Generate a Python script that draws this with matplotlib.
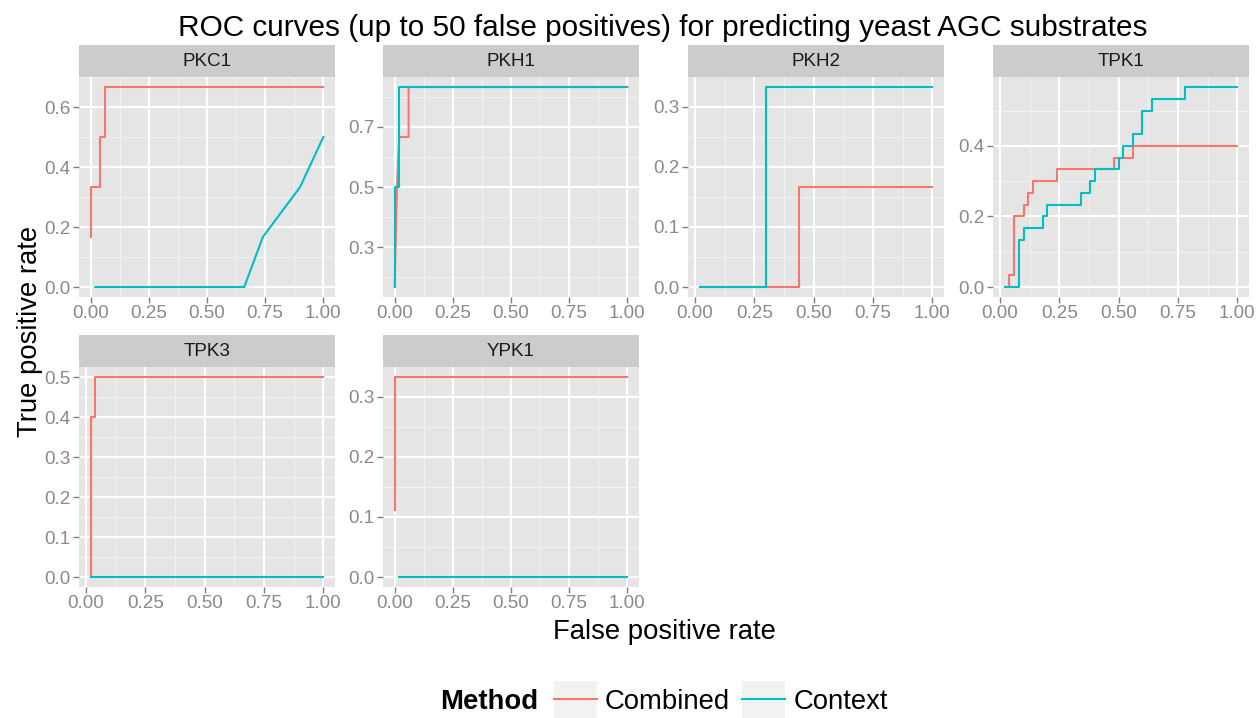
import numpy as np
import matplotlib
matplotlib.use("Agg")
import matplotlib.pyplot as plt
from matplotlib.lines import Line2D
from matplotlib.patches import Rectangle
from matplotlib.legend_handler import HandlerLine2D

plt.rcParams['font.family'] = ['Liberation Sans', 'DejaVu Sans']

# ---------------------------------------------------------------------------
# data
# ---------------------------------------------------------------------------
kinases = ['PKC1', 'PKH1', 'PKH2', 'TPK1', 'TPK3', 'YPK1']
methods = ['Combined', 'Context']
colors = {'Combined': '#F8766D', 'Context': '#00BFC4'}

pkc1_comb_x = [0.0, 0.0, 0.04, 0.04, 0.06, 0.06, 1.0]
pkc1_comb_y = [0.1667, 0.3333, 0.3333, 0.5, 0.5, 0.6667, 0.6667]
pkc1_ctx_x = [0.02, 0.66, 0.74, 0.90, 1.0]
pkc1_ctx_y = [0.0, 0.0, 0.1667, 0.3333, 0.5]

pkh1_comb_x = [0.0, 0.01, 0.02, 0.06, 0.06, 1.0]
pkh1_comb_y = [0.1667, 0.5, 0.6667, 0.6667, 0.8333, 0.8333]
pkh1_ctx_x = [0.0, 0.0, 0.02, 0.02, 1.0]
pkh1_ctx_y = [0.1667, 0.5, 0.5, 0.8333, 0.8333]

pkh2_comb_x = [0.02, 0.44, 0.44, 1.0]
pkh2_comb_y = [0.0, 0.0, 0.1667, 0.1667]
pkh2_ctx_x = [0.02, 0.30, 0.30, 1.0]
pkh2_ctx_y = [0.0, 0.0, 0.3333, 0.3333]

tpk1_comb_x = [0.02, 0.04, 0.04, 0.06, 0.06, 0.10, 0.10, 0.12, 0.12, 0.14, 0.14,
               0.24, 0.24, 0.48, 0.48, 0.56, 0.56, 1.0]
tpk1_comb_y = [0.0, 0.0, 0.0333, 0.0333, 0.2, 0.2, 0.2333, 0.2333, 0.2667, 0.2667, 0.3,
               0.3, 0.3333, 0.3333, 0.3667, 0.3667, 0.4, 0.4]
tpk1_ctx_x = [0.02, 0.08, 0.08, 0.10, 0.10, 0.18, 0.18, 0.20, 0.20, 0.34, 0.34,
              0.38, 0.38, 0.40, 0.40, 0.50, 0.50, 0.52, 0.52, 0.56, 0.56,
              0.60, 0.60, 0.64, 0.64, 0.78, 0.78, 1.0]
tpk1_ctx_y = [0.0, 0.0, 0.1333, 0.1333, 0.1667, 0.1667, 0.2, 0.2, 0.2333, 0.2333, 0.2667,
              0.2667, 0.3, 0.3, 0.3333, 0.3333, 0.3667, 0.3667, 0.4, 0.4, 0.4333,
              0.4333, 0.5, 0.5, 0.5333, 0.5333, 0.5667, 0.5667]

tpk3_comb_x = [0.02, 0.02, 0.04, 0.04, 1.0]
tpk3_comb_y = [0.0, 0.4, 0.4, 0.5, 0.5]
tpk3_ctx_x = [0.02, 1.0]
tpk3_ctx_y = [0.0, 0.0]

ypk1_comb_x = [0.0, 0.0, 1.0]
ypk1_comb_y = [0.1111, 0.3333, 0.3333]
ypk1_ctx_x = [0.02, 1.0]
ypk1_ctx_y = [0.0, 0.0]

curves = {
    'PKC1': {'Combined': (pkc1_comb_x, pkc1_comb_y), 'Context': (pkc1_ctx_x, pkc1_ctx_y)},
    'PKH1': {'Combined': (pkh1_comb_x, pkh1_comb_y), 'Context': (pkh1_ctx_x, pkh1_ctx_y)},
    'PKH2': {'Combined': (pkh2_comb_x, pkh2_comb_y), 'Context': (pkh2_ctx_x, pkh2_ctx_y)},
    'TPK1': {'Combined': (tpk1_comb_x, tpk1_comb_y), 'Context': (tpk1_ctx_x, tpk1_ctx_y)},
    'TPK3': {'Combined': (tpk3_comb_x, tpk3_comb_y), 'Context': (tpk3_ctx_x, tpk3_ctx_y)},
    'YPK1': {'Combined': (ypk1_comb_x, ypk1_comb_y), 'Context': (ypk1_ctx_x, ypk1_ctx_y)},
}

x_ticks = [0.0, 0.25, 0.5, 0.75, 1.0]
y_ticks = {
    'PKC1': [0.0, 0.2, 0.4, 0.6],
    'PKH1': [0.3, 0.5, 0.7],
    'PKH2': [0.0, 0.1, 0.2, 0.3],
    'TPK1': [0.0, 0.2, 0.4],
    'TPK3': [0.0, 0.1, 0.2, 0.3, 0.4, 0.5],
    'YPK1': [0.0, 0.1, 0.2, 0.3],
}

# ---------------------------------------------------------------------------
# layout (pixels)
# ---------------------------------------------------------------------------
W, H = 1259, 718
fig = plt.figure(figsize=(W / 100, H / 100), dpi=100)

col_left = [79, 383, 688, 993]
panel_w = 256
row_top = [77, 367]       # top of plotting area
panel_h = 220
strip_h = 32

GREY_BG = '#E5E5E5'
GREY_TXT = '#7F7F7F'


def px_axes(x0, y0, w, h):
    return fig.add_axes([x0 / W, 1 - (y0 + h) / H, w / W, h / H])


def minor_breaks(major, lo, hi):
    step = major[1] - major[0]
    cand = [major[0] - step / 2] + [(a + b) / 2 for a, b in zip(major[:-1], major[1:])] + [major[-1] + step / 2]
    return [c for c in cand if lo < c < hi]


def expand(vals, mult=0.05):
    lo, hi = min(vals), max(vals)
    pad = (hi - lo) * mult
    return lo - pad, hi + pad


for i, k in enumerate(kinases):
    r, c = divmod(i, 4)
    ax = px_axes(col_left[c], row_top[r], panel_w, panel_h)
    ax.set_facecolor(GREY_BG)
    for s in ax.spines.values():
        s.set_visible(False)

    allx = sum([list(curves[k][m][0]) for m in methods], [])
    ally = sum([list(curves[k][m][1]) for m in methods], [])
    xlo, xhi = expand(allx)
    ylo, yhi = expand(ally)
    ax.set_xlim(xlo, xhi)
    ax.set_ylim(ylo, yhi)

    # grid
    for v in minor_breaks(x_ticks, xlo, xhi):
        ax.axvline(v, color='#F2F2F2', lw=0.8, zorder=0.5)
    for v in minor_breaks(y_ticks[k], ylo, yhi):
        ax.axhline(v, color='#F2F2F2', lw=0.8, zorder=0.5)
    for v in x_ticks:
        ax.axvline(v, color='white', lw=1.5, zorder=0.6)
    for v in y_ticks[k]:
        ax.axhline(v, color='white', lw=1.5, zorder=0.6)

    for m in methods:
        xs, ys = curves[k][m]
        ax.plot(xs, ys, color=colors[m], lw=1.5, zorder=2)

    ax.set_xticks(x_ticks)
    ax.set_xticklabels(['%.2f' % v for v in x_ticks])
    ax.set_yticks(y_ticks[k])
    ax.set_yticklabels(['%.1f' % v for v in y_ticks[k]])
    ax.tick_params(axis='both', colors=GREY_TXT, labelsize=13.6, length=4, width=1, pad=2)
    ax.tick_params(axis='both', labelcolor='#8A8A8A')

    # facet strip
    sax = px_axes(col_left[c], row_top[r] - strip_h, panel_w, strip_h)
    sax.set_facecolor('#CCCCCC')
    sax.set_xticks([])
    sax.set_yticks([])
    for s in sax.spines.values():
        s.set_visible(False)
    sax.text(0.5, 0.5, k, ha='center', va='center', fontsize=13.6, color='#1A1A1A',
             transform=sax.transAxes)

fig.text(663 / W, 1 - 28 / H, 'ROC curves (up to 50 false positives) for predicting yeast AGC substrates',
         ha='center', va='center', fontsize=21.4)
fig.text(664 / W, 1 - 632 / H, 'False positive rate', ha='center', va='center', fontsize=19.8)
fig.text(30 / W, 1 - 331 / H, 'True positive rate', ha='center', va='center', rotation=90, fontsize=19.8)


# legend
class KeyHandler(HandlerLine2D):
    def create_artists(self, legend, orig_handle, xdescent, ydescent, width, height, fontsize, trans):
        cy = height / 2 - ydescent
        bg = Rectangle((-xdescent, cy - 13.3), width, 26.6, facecolor='#F2F2F2',
                       edgecolor='none', transform=trans)
        arts = super().create_artists(legend, orig_handle, xdescent, ydescent, width, height,
                                      fontsize, trans)
        return [bg] + list(arts)


handles = [Line2D([], [], color=colors[m], lw=1.5) for m in methods]
fig.text(440 / W, 1 - 702 / H, 'Method', ha='left', va='center', fontsize=19.8, fontweight='bold')
leg = fig.legend(handles, methods, loc='center left', bbox_to_anchor=(554 / W, 1 - 702 / H),
                 ncol=2, frameon=False, fontsize=19.8, handlelength=1.55, handletextpad=0.3,
                 columnspacing=0.45, borderpad=0, borderaxespad=0,
                 handler_map={Line2D: KeyHandler()})

fig.savefig('out.png', dpi=100)
